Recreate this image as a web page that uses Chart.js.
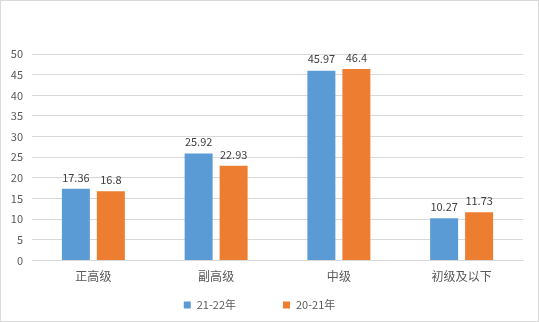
<!DOCTYPE html>
<html>
<head>
<meta charset="utf-8">
<script src="https://cdn.jsdelivr.net/npm/chart.js@4"></script>
<style>
  html, body { margin: 0; padding: 0; background: #fff; }
  #wrap { position: relative; width: 537px; height: 320px; border: 1px solid #d9d9d9; }
</style>
</head>
<body>
<div id="wrap"><canvas id="ch"></canvas></div>
<script>
const categories = ['正高级', '副高级', '中级', '初级及以下'];
const series2122 = [17.36, 25.92, 45.97, 10.27];
const series2021 = [16.8, 22.93, 46.4, 11.73];
const yTicks = [0, 5, 10, 15, 20, 25, 30, 35, 40, 45, 50];

const FONT = '"Microsoft YaHei", "Noto Sans CJK SC", "Noto Sans", sans-serif';

// value labels above each bar
const barLabels = {
  id: 'barLabels',
  afterDatasetsDraw(chart) {
    const ctx = chart.ctx;
    ctx.save();
    ctx.font = '11px ' + FONT;
    ctx.fillStyle = '#404040';
    ctx.textAlign = 'center';
    ctx.textBaseline = 'bottom';
    chart.data.datasets.forEach((ds, i) => {
      chart.getDatasetMeta(i).data.forEach((bar, j) => {
        ctx.fillText(String(ds.data[j]), bar.x, bar.y - 6);
      });
    });
    ctx.restore();
  }
};

// bottom legend with wide spacing between entries
const bottomLegend = {
  id: 'bottomLegend',
  afterDraw(chart) {
    const ctx = chart.ctx;
    const box = 7, gap = 6, between = 47;
    ctx.save();
    ctx.font = '11px ' + FONT;
    ctx.textBaseline = 'middle';
    ctx.textAlign = 'left';
    const items = chart.data.datasets.map(ds => ({
      text: ds.label, color: ds.backgroundColor, w: ctx.measureText(ds.label).width
    }));
    const total = items.reduce((s, it) => s + box + gap + it.w, 0) + between * (items.length - 1);
    let x = chart.width / 2 - 10 - total / 2;
    const y = 304;
    items.forEach(it => {
      ctx.fillStyle = it.color;
      ctx.fillRect(x, y - box / 2, box, box);
      ctx.fillStyle = '#595959';
      ctx.fillText(it.text, x + box + gap, y);
      x += box + gap + it.w + between;
    });
    ctx.restore();
  }
};

new Chart(document.getElementById('ch'), {
  type: 'bar',
  data: {
    labels: categories,
    datasets: [
      { label: '21-22年', data: series2122, backgroundColor: '#5B9BD5' },
      { label: '20-21年', data: series2021, backgroundColor: '#ED7D31' }
    ]
  },
  options: {
    responsive: true,
    maintainAspectRatio: false,
    animation: false,
    layout: { padding: { top: 53, right: 15, bottom: 36, left: 4 } },
    datasets: { bar: { categoryPercentage: 0.57, barPercentage: 0.8 } },
    plugins: {
      tooltip: { enabled: false },
      legend: { display: false }
    },
    scales: {
      x: {
        grid: { display: false },
        border: { color: '#d9d9d9' },
        ticks: { font: { size: 12, family: FONT }, color: '#595959', padding: 1 }
      },
      y: {
        min: 0,
        max: 50,
        afterFit(s) { s.width = 27; },
        afterBuildTicks(s) { s.ticks = yTicks.map(v => ({ value: v })); },
        grid: { color: '#d9d9d9', drawTicks: false },
        border: { display: false },
        ticks: { font: { size: 11, family: FONT }, color: '#595959', padding: 9 }
      }
    }
  },
  plugins: [barLabels, bottomLegend]
});
</script>
</body>
</html>
